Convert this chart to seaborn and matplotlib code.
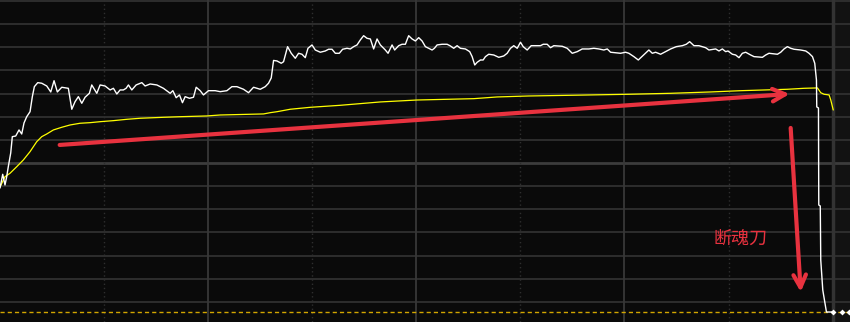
import matplotlib
matplotlib.use("Agg")
import matplotlib.pyplot as plt
import seaborn as sns
import pandas as pd
import numpy as np

# ---- data (x: minutes since open, y: % change vs previous close) ----
price_min = [0, 0.78, 1.44, 1.93, 2.39, 3.09, 3.55, 4.53, 5.48, 6.26, 6.92, 7.70, 8.66, 9.32, 9.90,
             10.88, 12.03, 13.47, 14.63, 15.58, 16.53, 17.80, 19.70, 20.69, 21.64, 22.59, 23.57, 24.52,
             25.76, 26.45, 27.90, 28.85, 30.29, 31.74, 32.69, 33.67, 34.62, 35.57, 36.35, 37.02, 37.99,
             39.24, 40.88, 41.83, 43.28, 45.21, 47.11, 49.05, 49.82, 50.78, 51.73, 52.59, 53.37, 54.61,
             55.77, 56.55, 57.70, 58.65, 60.09, 62.03, 63.47, 65.40, 66.84, 68.29, 70.19, 71.63, 73.08,
             75.01, 76.45, 77.40, 78.18, 78.85, 79.83, 81.07, 81.73, 82.89, 83.95, 85.11, 86.06, 87.04,
             87.99, 88.77, 89.93, 90.88, 92.32, 93.76, 94.71, 95.70, 96.65, 97.80, 98.75, 100.02, 100.98,
             101.93, 102.91, 103.86, 104.81, 105.79, 106.75, 107.70, 108.68, 109.63, 111.07, 111.85,
             113.01, 113.76, 114.91, 115.89, 116.84, 117.79, 118.78, 119.73, 120.68, 121.66, 122.61,
             123.56, 124.55, 125.21, 125.99, 127.43, 128.87, 129.83, 130.78, 131.76, 132.71, 134.15,
             135.39, 136.09, 136.84, 137.53, 138.48, 139.26, 139.92, 140.87, 142.32, 143.76, 145.20,
             146.18, 147.14, 148.09, 149.07, 150.02, 150.80, 151.95, 153.11, 155.79, 156.57, 157.72,
             158.68, 159.63, 162.05, 163.49, 164.94, 166.38, 167.82, 169.72, 171.17, 172.61, 174.05,
             175.03, 175.99, 178.87, 180.31, 181.26, 182.71, 183.98, 185.30, 187.03, 188.02, 188.97,
             190.41, 191.85, 193.30, 194.94, 196.67, 197.82, 198.78, 200.02, 201.46, 202.44, 203.39,
             204.34, 206.28, 207.23, 208.21, 209.16, 209.83, 211.10, 212.05, 213.00, 213.98, 214.93,
             216.38, 217.33, 219.75, 220.70, 221.65, 224.08, 225.03, 225.98, 226.96, 227.92, 228.87,
             230.80, 232.24, 233.19, 234.18, 234.84, 235.33, 235.42, 235.91, 236.0, 236.43, 236.57,
             237.15, 237.72, 238.21, 240.0]
price_pct = [-3.36, -1.52, -2.95, -1.84, -0.50, 1.34, 3.53, 3.62, 4.43, 3.89, 5.37, 6.21, 6.88, 8.90, 10.24,
             10.78, 10.70, 10.33, 9.53, 11.04, 9.53, 10.16, 10.02, 7.21, 8.23, 8.90, 8.01, 8.82,
             9.35, 10.47, 9.35, 10.47, 10.33, 9.80, 10.02, 9.26, 9.80, 9.80, 10.02, 10.47, 9.80,
             10.47, 10.78, 10.33, 10.60, 10.47, 10.02, 9.35, 9.70, 8.76, 9.13, 8.09, 8.90, 8.68,
             8.82, 10.16, 9.70, 9.13, 9.70, 9.70, 9.57, 9.70, 10.24, 10.24, 9.89, 9.43, 10.16,
             9.89, 10.24, 10.70, 11.41, 13.76, 13.69, 13.38, 13.59, 15.61, 14.72, 14.05, 14.72, 14.59,
             14.13, 15.39, 15.84, 15.16, 14.86, 15.03, 15.26, 15.26, 14.72, 14.72, 15.26, 15.39, 15.30,
             15.61, 15.84, 16.51, 17.08, 16.73, 16.64, 15.30, 16.64, 15.84, 15.16, 14.72,
             15.84, 15.16, 15.74, 15.93, 15.93, 17.08, 16.64, 16.37, 16.82, 16.37, 15.61,
             15.39, 15.16, 15.39, 15.84, 15.93, 15.93, 15.70, 15.39, 15.74, 15.39, 15.30,
             14.94, 14.27, 13.15, 13.51, 13.82, 13.82, 14.27, 14.59, 14.49, 14.18, 14.36,
             14.72, 15.39, 15.74, 15.39, 16.20, 15.61, 15.16, 15.74, 15.74, 15.93, 15.93,
             15.47, 15.74, 15.66, 15.39, 14.72, 14.94, 15.30, 15.30, 15.39, 15.30, 15.16,
             15.30, 14.86, 14.72, 14.86, 14.72, 14.27, 13.82, 14.40, 15.16, 14.72, 14.86,
             14.59, 14.94, 15.30, 15.61, 15.74, 15.93, 16.28, 15.74, 15.74, 15.61, 15.47,
             15.16, 15.30, 15.03, 15.30, 14.94, 15.03, 14.59, 14.49, 14.13, 14.72, 14.86,
             14.49, 14.27, 14.18, 14.49, 14.72, 14.59, 14.86, 15.30, 15.61, 15.39, 15.26,
             15.16, 15.03, 14.72, 14.27, 13.38, 11.14, 7.52, 7.38, -5.64, -5.77, -13.02,
             -17.04, -18.65, -20.0, -20.0]

avg_min = [0, 1.44, 2.89, 4.82, 6.72, 8.66, 10.59, 12.03, 13.47, 15.38, 17.80, 20.20, 23.08, 25.97,
           28.85, 32.69, 36.55, 40.39, 47.11, 51.93, 59.63, 63.47, 75.96, 77.89, 79.83, 83.67, 89.44,
           98.09, 109.63, 120.22, 136.55, 143.30, 152.41, 165.40, 181.26, 193.30, 204.84, 213.49,
           226.96, 231.75, 235.62, 236.57, 237.52, 238.97, 239.46, 240.17]
avg_pct = [-3.22, -1.84, -1.38, -0.50, 0.40, 1.52, 2.86, 3.53, 3.89, 4.43, 4.79, 5.10, 5.33, 5.41,
           5.54, 5.68, 5.86, 6.00, 6.13, 6.21, 6.31, 6.44, 6.58, 6.75, 6.88, 7.21, 7.47,
           7.74, 8.19, 8.45, 8.63, 8.86, 8.99, 9.09, 9.22, 9.35, 9.53, 9.70,
           9.89, 10.02, 10.07, 9.43, 9.22, 9.13, 8.45, 7.11]

after_min = [240.1, 242.6, 244.7]
after_pct = [-20.0, -20.0, -20.0]

limit_down_pct = -20.0
label_text = "断魂刀"
arrow1 = ((17.2, 2.42), (227.6, 9.26))
arrow2 = ((227.9, 4.70), (230.8, -17.31))
label_pos = (213.5, -10.2)

# ---- styling ----
sns.set_style("dark")
plt.rcParams['font.family'] = ['Noto Sans CJK SC', 'DejaVu Sans']

fig = plt.figure(figsize=(8.5, 3.22), dpi=100)
ax = fig.add_axes([0, 0, 1, 1])
bg = "#0a0a0a"
fig.patch.set_facecolor(bg)
ax.set_facecolor(bg)
ax.set_xlim(0, 245.0)
ax.set_ylim(-21.34, 21.87)
ax.axvspan(240.1, 246, color="#121212", zorder=0, lw=0)

grid_step = 3.107
for k in range(-6, 8):
    if k == 0:
        ax.axhline(0, color="#3c3c3c", lw=2.0, zorder=1)
    else:
        ax.axhline(k * grid_step, color="#333333", lw=1.2, zorder=1)
for xm in [60, 120, 180]:
    ax.axvline(xm, color="#383838", lw=1.3, zorder=1)
for xm in [30, 90, 150, 210]:
    ax.axvline(xm, color="#2e2e2e", lw=1.0, ls=(0, (1, 2)), zorder=1)
ax.axvline(240, color="#333333", lw=2.5, zorder=1)

# limit-down dashed line
ax.axhline(limit_down_pct, color="#d2a600", lw=1.0, ls=(0, (3, 2.2)), zorder=2)

price_df = pd.DataFrame({"minute": price_min, "pct": price_pct})
avg_df = pd.DataFrame({"minute": avg_min, "pct": avg_pct})
after_df = pd.DataFrame({"minute": after_min, "pct": after_pct})

sns.lineplot(data=avg_df, x="minute", y="pct", ax=ax, color="#ffff00", lw=0.9,
             sort=False, estimator=None, zorder=3)
sns.lineplot(data=price_df, x="minute", y="pct", ax=ax, color="#ffffff", lw=1.0,
             sort=False, estimator=None, zorder=4)
sns.scatterplot(data=after_df, x="minute", y="pct", ax=ax, color="#ffffff", s=9,
                marker="D", linewidth=0, zorder=5)

red = "#e8323f"
for (start, end) in (arrow1, arrow2):
    ax.annotate("", xy=end, xytext=start,
                arrowprops=dict(arrowstyle="->,head_length=0.9,head_width=0.45",
                                color=red, lw=3.0, shrinkA=0, shrinkB=0,
                                capstyle="round"),
                zorder=6)
ax.text(label_pos[0], label_pos[1], label_text, color=red, fontsize=13,
        ha="center", va="center", zorder=6)

ax.set_xlabel("")
ax.set_ylabel("")
ax.set_xticks([])
ax.set_yticks([])
for s in ax.spines.values():
    s.set_visible(False)
ax.grid(False)

fig.savefig("out.png", dpi=100, facecolor=bg)
